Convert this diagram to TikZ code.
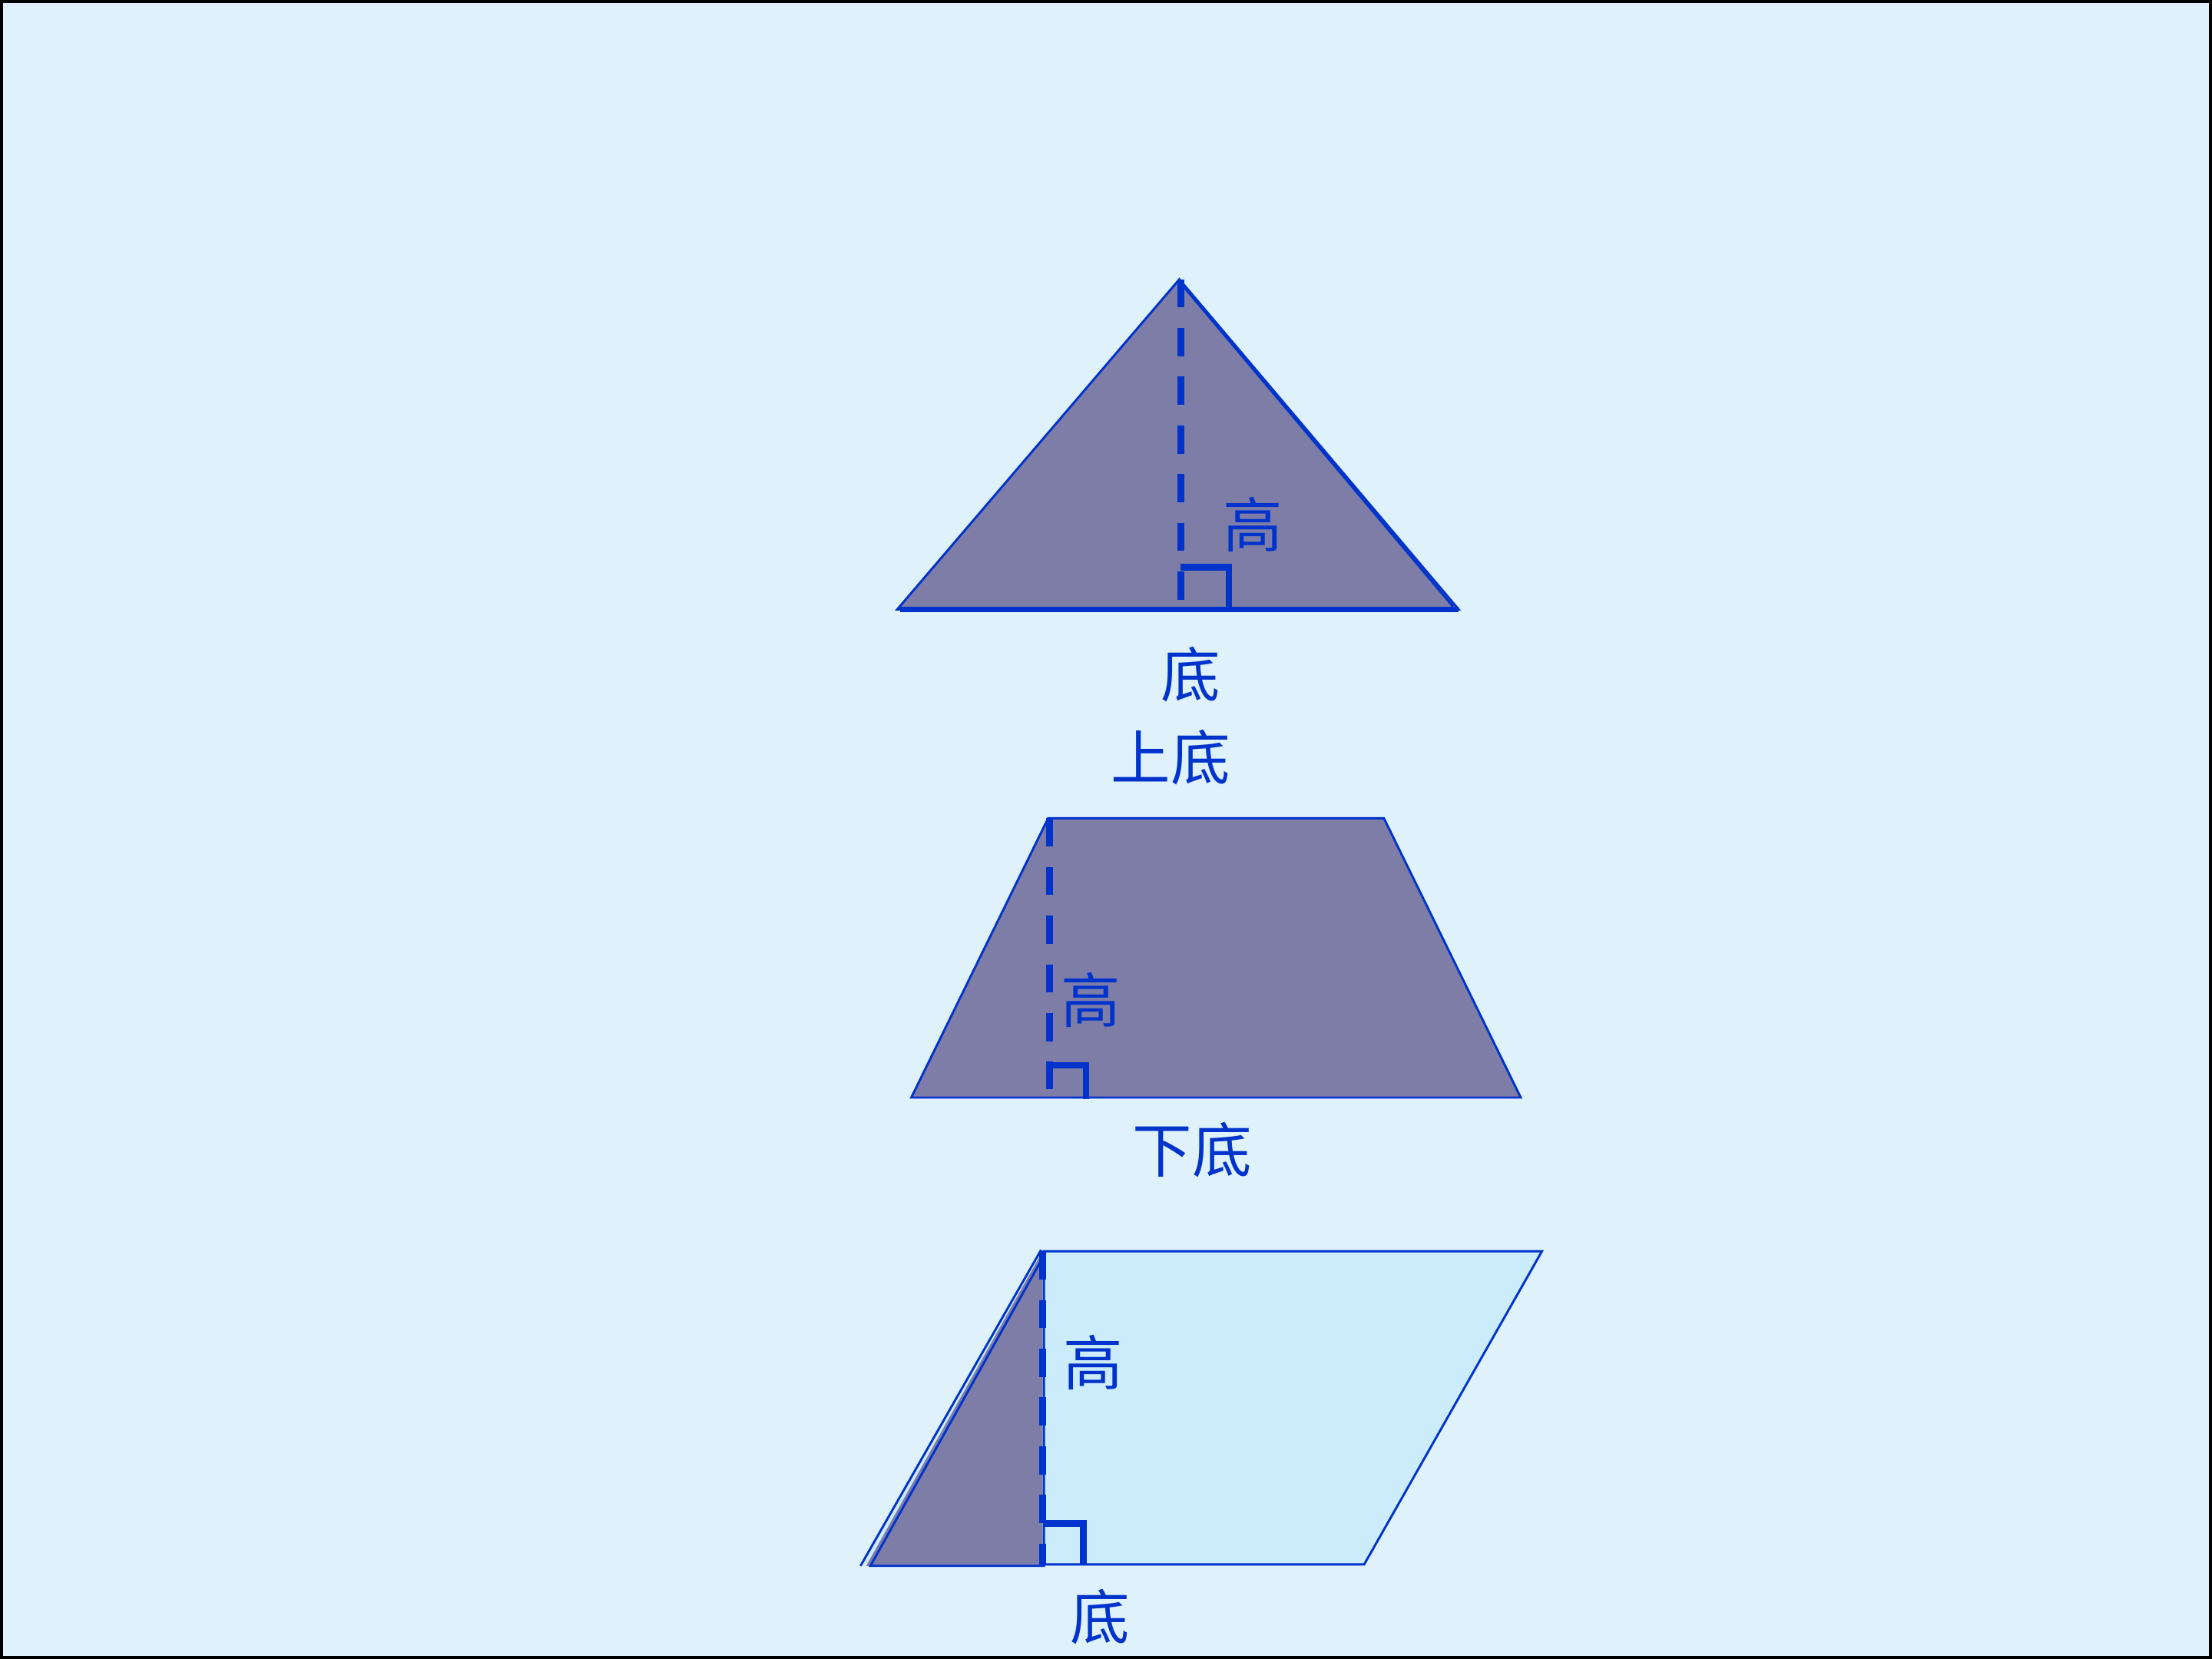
\documentclass[tikz,border=0pt]{standalone}
\usepackage{fontspec}
\newfontfamily\cjk{Noto Sans CJK SC}
\definecolor{bg}{HTML}{DFF1FB}
\definecolor{ln}{HTML}{0033CC}
\definecolor{dk}{HTML}{7D7DA8}
\definecolor{lt}{HTML}{CCECFC}
\begin{document}
\begin{tikzpicture}[x=0.01cm,y=-0.01cm,
  outl/.style={draw=ln, line width=0.45pt, line join=miter},
  hgt/.style={draw=ln, line width=1.45pt, dash pattern=on 0.2cm off 0.145cm},
  ramark/.style={draw=ln, line width=1.3pt},
  lbl/.style={text=ln, font=\cjk\fontsize{12}{12}\selectfont, inner sep=0pt}]
\useasboundingbox (0,0) rectangle (1568,1176);
\fill[bg] (0,0) rectangle (1568,1176);
\draw[black, line width=0.6pt] (1,1) rectangle (1567,1175);

% ---- triangle ----
\fill[dk] (636,432) -- (836,198) -- (1034,432) -- cycle;
\draw[outl] (636,432) -- (836,198) -- (1034,432) -- cycle;
\draw[outl] (838,202) -- (1030,430);
\draw[ln, line width=1pt] (638,432) -- (1034,432);
\draw[hgt] (837,198) -- (837,425);
\draw[ramark] (837,402) -- (871,402) -- (871,432);
\node[lbl] (th) at (888,372) {高};
\node[lbl] (tb) at (844,478) {底};

% ---- trapezoid ----
\fill[dk] (646,778) -- (743,580) -- (981,580) -- (1078,778) -- cycle;
\draw[outl] (646,778) -- (743,580) -- (981,580) -- (1078,778) -- cycle;
\draw[hgt] (744,580) -- (744,772);
\draw[ramark] (744,755) -- (770,755) -- (770,779);
\node[lbl] (zt) at (830,537) {上底};
\node[lbl] (zh) at (773,709) {高};
\node[lbl] (zb) at (845,815) {下底};

% ---- parallelogram ----
\fill[lt] (612,1109) -- (739,887) -- (1093,887) -- (967,1109) -- cycle;
\draw[outl] (739,887) -- (1093,887) -- (967,1109) -- (739,1109);
\fill[dk] (614,1110) -- (739,887) -- (739,1110) -- cycle;
\draw[outl] (610,1110) -- (738,886);
\draw[outl] (617,1110) -- (740,890) -- (740,1110) -- cycle;
\draw[hgt] (739,887) -- (739,1109);
\draw[ramark] (740,1080) -- (768,1080) -- (768,1109);
\node[lbl] (ph) at (775,966) {高};
\node[lbl] (pb) at (780,1146) {底};
\end{tikzpicture}
\end{document}
